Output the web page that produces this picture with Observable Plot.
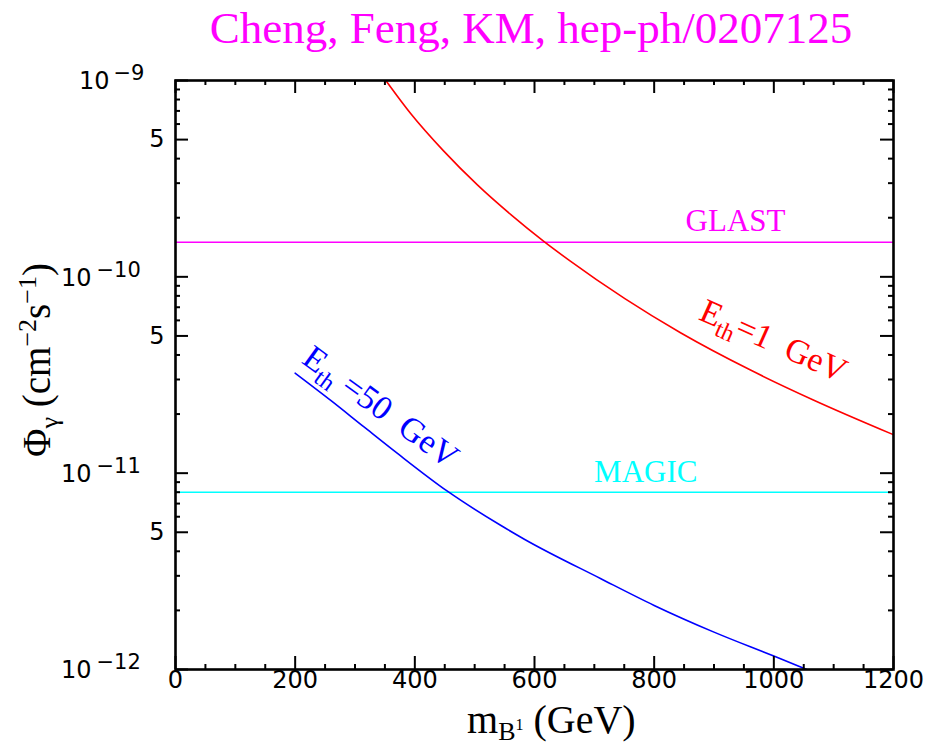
<!DOCTYPE html>
<html><head><meta charset="utf-8">
<script src="https://cdn.jsdelivr.net/npm/d3@7"></script>
<script src="https://cdn.jsdelivr.net/npm/@observablehq/plot@0.6"></script>
<style>
body{margin:0;background:#fff;}
#wrap{position:relative;width:930px;height:745px;overflow:hidden;}
#wrap svg{position:absolute;top:0;left:0;}
#title{position:absolute;top:6px;left:531px;transform:translateX(-50%);white-space:nowrap;font-family:"Liberation Serif",serif;font-size:45px;color:#ff00ff;line-height:1;z-index:2;}
</style></head><body>
<div id="wrap"></div>
<script>
// ---- data ----
const titleText = "Cheng, Feng, KM, hep-ph/0207125";
// E_th = 1 GeV curve (red)
const redMass = [351.5, 393, 448, 505, 560, 615, 657, 751, 844, 961, 1066, 1200];
const redFlux = [1.0e-9, 6.79e-10, 4.38e-10, 2.93e-10, 2.08e-10, 1.52e-10, 1.22e-10, 7.74e-11, 5.19e-11, 3.35e-11, 2.36e-11, 1.57e-11];
// E_th = 50 GeV curve (blue)
const blueMass = [200, 260, 315, 371, 455, 544, 583, 711, 800, 900, 1000, 1055];
const blueFlux = [3.23e-11, 2.34e-11, 1.72e-11, 1.26e-11, 8.07e-12, 5.41e-12, 4.61e-12, 2.90e-12, 2.12e-12, 1.55e-12, 1.17e-12, 1.0e-12];
// sensitivities
const glastFlux = [1.5e-10];
const magicFlux = [8e-12];
// ticks
const xMajor = [0, 200, 400, 600, 800, 1000, 1200];
const xMinor = [50, 100, 150, 250, 300, 350, 450, 500, 550, 650, 700, 750, 850, 900, 950, 1050, 1100, 1150];
const yDecades = [1e-12, 1e-11, 1e-10, 1e-9];
const yDecadeExps = ["\u221212", "\u221211", "\u221210", "\u22129"];
const yFives = [5e-12, 5e-11, 5e-10];
const yMinor = [2e-12,3e-12,4e-12,6e-12,7e-12,8e-12,9e-12,2e-11,3e-11,4e-11,6e-11,7e-11,8e-11,9e-11,2e-10,3e-10,4e-10,6e-10,7e-10,8e-10,9e-10];

const W = 930, H = 745, mL = 175, mR = 37, mT = 80, mB = 76;
const FW = W - mL - mR, FH = H - mT - mB;
const tickFont = "DejaVu Sans";
const serif = "Liberation Serif";

const red = redMass.map((m, i) => ({m, f: redFlux[i]}));
const blue = blueMass.map((m, i) => ({m, f: blueFlux[i]}));
const longDec = yDecades.filter((d, i) => yDecadeExps[i].length === 3);
const shortDec = yDecades.filter((d, i) => yDecadeExps[i].length === 2);
const expOf = d => yDecadeExps[yDecades.indexOf(d)];

const plot = Plot.plot({
  width: W, height: H,
  marginLeft: mL, marginRight: mR, marginTop: mT, marginBottom: mB,
  x: {domain: [0, 1200], axis: null},
  y: {type: "log", domain: [1e-12, 1e-9], axis: null},
  marks: [
    Plot.ruleY(glastFlux, {y: d => d, stroke: "#ff00ff", strokeWidth: 1.6}),
    Plot.ruleY(magicFlux, {y: d => d, stroke: "#00ffff", strokeWidth: 1.6}),
    Plot.line(red, {x: "m", y: "f", stroke: "#ff0000", strokeWidth: 1.6, curve: "monotone-x", clip: true}),
    Plot.line(blue, {x: "m", y: "f", stroke: "#0000ff", strokeWidth: 1.6, curve: "monotone-x", clip: true}),
    Plot.text(["GLAST"], {x: 936, y: glastFlux[0], dy: -21, text: d => d, fill: "#ff00ff", fontFamily: serif, fontSize: 31}),
    Plot.text(["MAGIC"], {x: 786, y: magicFlux[0], dy: -20, text: d => d, fill: "#00ffff", fontFamily: serif, fontSize: 31}),
    // x ticks bottom & top
    Plot.tickX(xMajor, {x: d => d, insetTop: FH - 13, strokeWidth: 2}),
    Plot.tickX(xMinor, {x: d => d, insetTop: FH - 5, strokeWidth: 2}),
    Plot.tickX(xMajor, {x: d => d, insetBottom: FH - 13, strokeWidth: 2}),
    Plot.tickX(xMinor, {x: d => d, insetBottom: FH - 5, strokeWidth: 2}),
    // y ticks left & right
    Plot.tickY(yDecades.concat(yFives), {y: d => d, insetRight: FW - 13, strokeWidth: 2}),
    Plot.tickY(yMinor, {y: d => d, insetRight: FW - 5, strokeWidth: 2}),
    Plot.tickY(yDecades.concat(yFives), {y: d => d, insetLeft: FW - 13, strokeWidth: 2}),
    Plot.tickY(yMinor, {y: d => d, insetLeft: FW - 5, strokeWidth: 2}),
    Plot.frame({stroke: "black", strokeWidth: 2.6}),
    // tick labels
    Plot.text(xMajor, {x: d => d, frameAnchor: "bottom", dy: 18, text: d => String(d), fontFamily: tickFont, fontSize: 24, fill: "black"}),
    Plot.text(yFives, {y: d => d, frameAnchor: "left", dx: -11, textAnchor: "end", text: () => "5", fontFamily: tickFont, fontSize: 24, fill: "black"}),
    Plot.text(shortDec, {y: d => d, frameAnchor: "left", dx: -66, dy: 1, textAnchor: "end", text: () => "10", fontFamily: tickFont, fontSize: 24, fill: "black"}),
    Plot.text(longDec, {y: d => d, frameAnchor: "left", dx: -84, dy: 1, textAnchor: "end", text: () => "10", fontFamily: tickFont, fontSize: 24, fill: "black"}),
    Plot.text(shortDec, {y: d => d, frameAnchor: "left", dx: -62, dy: -7, textAnchor: "start", text: expOf, fontFamily: tickFont, fontSize: 21, fill: "black"}),
    Plot.text(longDec, {y: d => d, frameAnchor: "left", dx: -79, dy: -7, textAnchor: "start", text: expOf, fontFamily: tickFont, fontSize: 21, fill: "black"})
  ]
});
document.getElementById("wrap").appendChild(plot);
const t = document.createElement("div");
t.id = "title"; t.textContent = titleText;
document.getElementById("wrap").appendChild(t);

// rich-text labels
const svg = d3.select(plot);
const sx = plot.scale("x"), sy = plot.scale("y");

function rich(g, parts) {
  parts.forEach(p => {
    g.append("tspan").attr("font-size", p.size).attr("dy", p.dy || 0).text(p.t);
  });
}
// curve labels
[
  {m: 993, f: 4.17e-11, angle: 24, color: "#ff0000", parts: [
    {t: "E", size: 34}, {t: "th", size: 24, dy: 8}, {t: "=1  GeV", size: 34, dy: -8}]},
  {m: 333, f: 1.945e-11, angle: 36, color: "#0000ff", parts: [
    {t: "E", size: 34}, {t: "th", size: 24, dy: 8}, {t: " =50  GeV", size: 34, dy: -8}]}
].forEach(l => {
  const g = svg.append("text")
    .attr("transform", `translate(${sx.apply(l.m)},${sy.apply(l.f)}) rotate(${l.angle})`)
    .attr("text-anchor", "middle").attr("fill", l.color)
    .attr("font-family", serif).style("white-space", "pre");
  rich(g, l.parts);
});
// x axis title
const xt = svg.append("text").attr("x", 467).attr("y", 733).attr("text-anchor", "start")
  .attr("font-family", serif).attr("fill", "black").style("white-space", "pre");
rich(xt, [{t: "m", size: 40}, {t: "B", size: 26, dy: 7}, {t: "1", size: 16, dy: -10}, {t: " (GeV)", size: 40, dy: 3}]);
// y axis title
const yt = svg.append("text").attr("transform", "translate(50,360) rotate(-90)")
  .attr("text-anchor", "middle").attr("font-family", serif).attr("fill", "black").style("white-space", "pre");
rich(yt, [{t: "\u03a6", size: 39}, {t: "\u03b3", size: 26, dy: 8}, {t: " (cm", size: 39, dy: -8},
  {t: "\u22122", size: 26, dy: -14}, {t: "s", size: 39, dy: 14}, {t: "\u22121", size: 26, dy: -14}, {t: ")", size: 39, dy: 14}]);
</script>
</body></html>
